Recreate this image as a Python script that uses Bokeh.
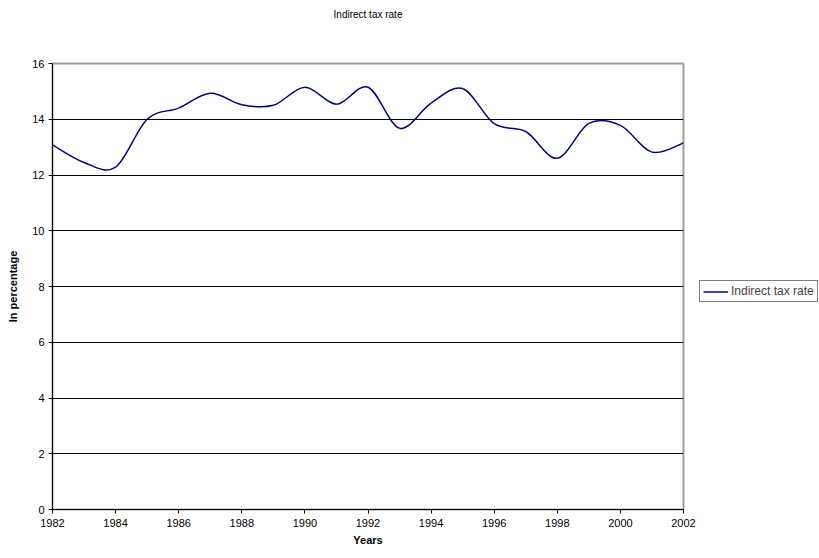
from bokeh.plotting import figure
from bokeh.models import Range1d, FixedTicker, Legend, LegendItem, Title
from bokeh.embed import file_html
from bokeh.resources import INLINE

years = list(range(1982, 2003))
rate = [13.08, 12.45, 12.28, 14.0, 14.4, 14.93, 14.52, 14.5, 15.15, 14.54, 15.15,
        13.68, 14.58, 15.1, 13.84, 13.56, 12.6, 13.85, 13.78, 12.82, 13.15]
x_ticks = list(range(1982, 2003, 2))
y_ticks = list(range(0, 17, 2))
title_text = "Indirect tax rate"
series_name = "Indirect tax rate"

FONT = "Liberation Sans"

p = figure(frame_width=631, frame_height=446, output_backend="svg", toolbar_location=None,
           x_range=Range1d(1982, 2002), y_range=Range1d(0, 16), title=None,
           min_border_left=52, min_border_right=136, min_border_top=0, min_border_bottom=41)

# spacer between title and plot area (nearest to frame)
p.add_layout(Title(text=" ", text_font_size="11px", standoff=24,
                   text_color="white"), "above")
p.add_layout(Title(text=title_text, align="center", text_font=FONT,
                   text_font_size="10px", text_font_style="normal",
                   text_color="black", standoff=12), "above")

# Catmull-Rom style smoothing rendered as cubic bezier segments
n = len(years)
x0, y0, x1, y1, cx0, cy0, cx1, cy1 = ([] for _ in range(8))
for i in range(n - 1):
    pm = max(i - 1, 0)
    pp = min(i + 2, n - 1)
    x0.append(years[i]); y0.append(rate[i])
    x1.append(years[i + 1]); y1.append(rate[i + 1])
    cx0.append(years[i] + (years[i + 1] - years[pm]) / 6)
    cy0.append(rate[i] + (rate[i + 1] - rate[pm]) / 6)
    cx1.append(years[i + 1] - (years[pp] - years[i]) / 6)
    cy1.append(rate[i + 1] - (rate[pp] - rate[i]) / 6)

r = p.bezier(x0=x0, y0=y0, x1=x1, y1=y1, cx0=cx0, cy0=cy0, cx1=cx1, cy1=cy1,
             line_color="#000080", line_width=1.5)

p.xgrid.visible = False
p.ygrid.ticker = FixedTicker(ticks=y_ticks[1:-1])
p.ygrid.grid_line_color = "#000000"
p.ygrid.grid_line_width = 1

p.outline_line_color = "#a0a0a0"
p.outline_line_width = 2
p.background_fill_color = "white"
p.border_fill_color = "white"

for ax, ticks in ((p.xaxis, x_ticks), (p.yaxis, y_ticks)):
    ax.ticker = FixedTicker(ticks=ticks)
    ax.major_tick_in = 0
    ax.major_tick_out = 4
    ax.minor_tick_line_color = None
    ax.axis_line_color = "black"
    ax.major_tick_line_color = "black"
    ax.major_label_text_font = FONT
    ax.major_label_text_font_size = "11px"
    ax.major_label_text_color = "black"
    ax.axis_label_text_font = FONT
    ax.axis_label_text_font_size = "11px"
    ax.axis_label_text_font_style = "bold"
    ax.axis_label_text_color = "black"

p.xaxis.axis_label = "Years"
p.yaxis.axis_label = "In percentage"
p.xaxis.major_label_standoff = 5
p.xaxis.axis_label_standoff = 4
p.yaxis.major_label_standoff = 4
p.yaxis.axis_label_standoff = 10

legend = Legend(items=[LegendItem(label=series_name, renderers=[r])],
                location=(16, 207), orientation="vertical",
                label_text_font=FONT, label_text_font_size="12px",
                border_line_color="black", border_line_width=1,
                background_fill_color="white", background_fill_alpha=1,
                padding=3, spacing=0, margin=0, glyph_height=13, glyph_width=25,
                label_standoff=3, label_height=13)
p.add_layout(legend, "right")

open("out.html", "w").write(file_html(p, INLINE))
